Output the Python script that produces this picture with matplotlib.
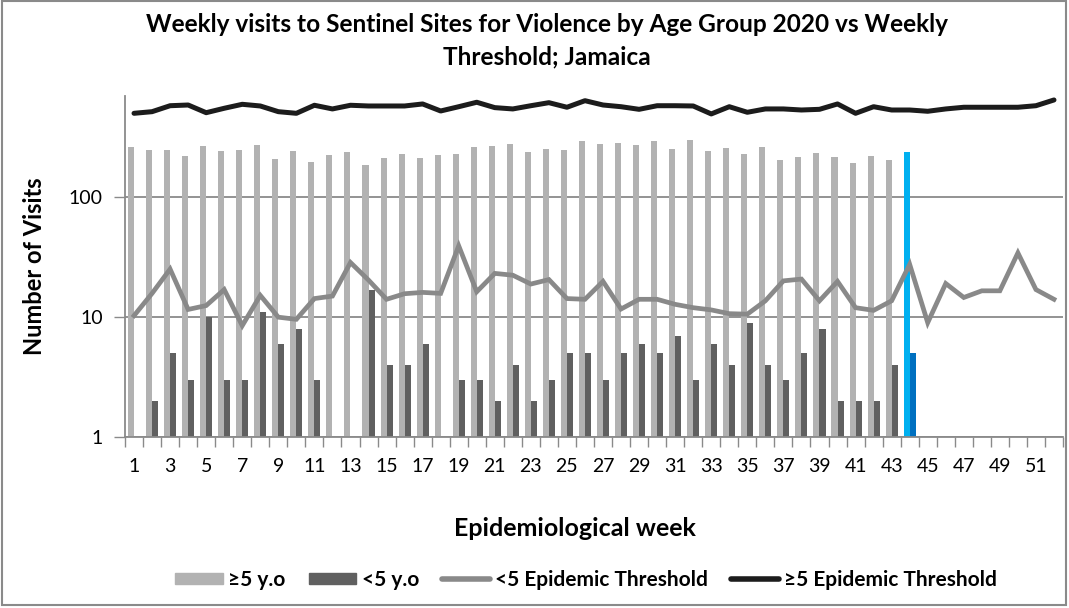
import matplotlib.pyplot as plt
import numpy as np
from matplotlib.lines import Line2D
from matplotlib.patches import Patch, Rectangle

plt.rcParams["font.family"] = ["Lato", "DejaVu Sans"]

weeks = np.arange(1, 53)

# weekly visits, age 5 and over (weeks 1-44 reported)
visits_5plus = [262, 250, 248, 221, 267, 244, 248, 273, 210, 242,
                198, 224, 239, 187, 213, 231, 213, 226, 231, 263,
                268, 279, 240, 253, 250, 295, 279, 286, 273, 294,
                252, 299, 244, 258, 229, 265, 206, 217, 235, 217,
                194, 221, 205, 240]

# weekly visits, under 5 (None = no visits that week)
visits_under5 = [None, 2, 5, 3, 10, 3, 3, 11, 6, 8,
                 3, None, None, 17, 4, 4, 6, None, 3, 3,
                 2, 4, 2, 3, 5, 5, 3, 5, 6, 5,
                 7, 3, 6, 4, 9, 4, 3, 5, 8, 2,
                 2, 2, 4, 5]

threshold_under5 = [10.3, 15.8, 25.2, 11.6, 12.5, 17.0, 8.5, 15.2, 10.0, 9.6,
                    14.3, 15.0, 28.6, 20.4, 14.1, 15.7, 16.1, 15.8, 39.4, 16.3,
                    23.2, 22.4, 18.9, 20.6, 14.3, 14.1, 19.9, 11.7, 14.1, 14.1,
                    12.8, 12.0, 11.5, 10.7, 10.6, 13.7, 20.1, 20.8, 13.7, 19.9,
                    12.0, 11.4, 13.7, 27.6, 9.0, 19.1, 14.6, 16.6, 16.6, 34.4,
                    17.0, 14.1]

threshold_5plus = [503, 519, 582, 590, 509, 554, 598, 579, 519, 503,
                   587, 547, 587, 579, 579, 579, 602, 526, 571, 622,
                   561, 547, 582, 617, 565, 641, 590, 571, 543, 582,
                   582, 579, 497, 571, 513, 547, 547, 536, 543, 602,
                   503, 571, 536, 536, 523, 547, 565, 565, 565, 565,
                   582, 650]

current_week = 44

c_light = "#B2B2B2"
c_dark = "#606060"
c_grey_line = "#898989"
c_black_line = "#1C1C1C"
c_axis = "#8A8A8A"

fig = plt.figure(figsize=(10.69, 6.08), dpi=100)
ax = fig.add_axes([125 / 1069, 1 - 437 / 608, (1063 - 125) / 1069, (437 - 96) / 608])

n = len(visits_5plus)
x_bars = weeks[:n]
v5 = np.array(visits_5plus, dtype=float)
vu5 = np.array([np.nan if v is None else v for v in visits_under5], dtype=float)

light_cols = [c_light] * n
dark_cols = [c_dark] * n
light_cols[current_week - 1] = "#00B0F0"
dark_cols[current_week - 1] = "#0070C0"

w = 0.335
ax.bar(x_bars - w / 2, v5, width=w, color=light_cols, zorder=2)
ax.bar(x_bars + w / 2, vu5, width=w, color=dark_cols, zorder=2)

ax.plot(weeks, threshold_under5, color=c_grey_line, lw=3.4, zorder=3,
        solid_joinstyle="miter")
ax.plot(weeks, threshold_5plus, color=c_black_line, lw=3.6, zorder=3,
        clip_on=False, solid_joinstyle="round", solid_capstyle="round")

ax.set_yscale("log")
ax.set_ylim(1, 10 ** 2.846)
ax.set_xlim(0.5, 52.5)

ax.set_yticks([1, 10, 100])
ax.set_yticklabels(["1", "10", "100"])
ax.yaxis.set_minor_locator(plt.NullLocator())
ax.grid(axis="y", color=c_axis, lw=1.3, zorder=0)

ax.set_xticks(weeks[::2])
ax.set_xticklabels([str(v) for v in weeks[::2]])
ax.set_xticks(np.arange(0.5, 53, 1), minor=True)
ax.tick_params(axis="x", which="major", length=0, pad=15, labelsize=14)
ax.tick_params(axis="x", which="minor", length=7, width=1, color=c_axis)
ax.tick_params(axis="y", which="major", length=8, width=1, color=c_axis,
               labelsize=14, pad=8)

for side in ["top", "right"]:
    ax.spines[side].set_visible(False)
for side in ["left", "bottom"]:
    ax.spines[side].set_color(c_axis)
    ax.spines[side].set_linewidth(1.3)

title_kw = dict(ha="center", va="center", fontsize=17.6, fontweight="bold")
fig.text(547 / 1069, 1 - 25 / 608,
         "Weekly visits to Sentinel Sites for Violence by Age Group 2020 vs Weekly", **title_kw)
fig.text(547 / 1069, 1 - 57 / 608, "Threshold; Jamaica", **title_kw)
fig.text(35 / 1069, 1 - 266 / 608, "Number of Visits", rotation=90,
         ha="center", va="center", fontsize=17, fontweight="bold")
fig.text(575 / 1069, 1 - 528 / 608, "Epidemiological week",
         ha="center", va="center", fontsize=18, fontweight="bold")

handles = [
    Patch(color=c_light, label="≥5 y.o"),
    Patch(color=c_dark, label="<5 y.o"),
    Line2D([], [], color=c_grey_line, lw=4, solid_capstyle="round",
           label="<5 Epidemic Threshold"),
    Line2D([], [], color=c_black_line, lw=4, solid_capstyle="round",
           label="≥5 Epidemic Threshold"),
]
fig.legend(handles=handles, loc="center", bbox_to_anchor=(586 / 1069, 1 - 580 / 608),
           ncol=4, frameon=False, prop={"weight": "bold", "size": 15},
           handlelength=2.3, handleheight=0.48, handletextpad=0.25, columnspacing=1.1)

fig.patches.append(Rectangle((2 / 1069, 1 - 605 / 608), 1064 / 1069, 604 / 608,
                             transform=fig.transFigure, fill=False,
                             edgecolor=c_axis, lw=1.5))

fig.savefig("out.png", dpi=100)
